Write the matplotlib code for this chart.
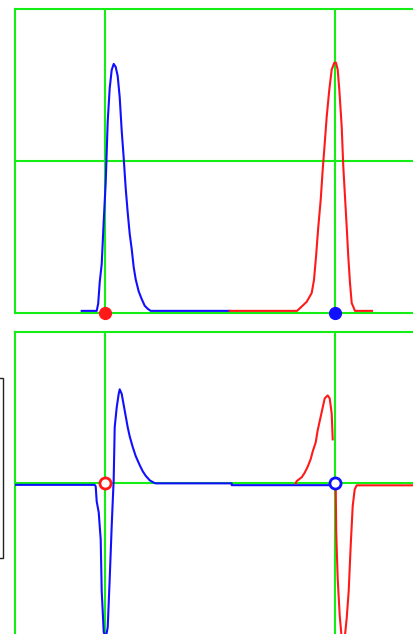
import numpy as np
import matplotlib
matplotlib.use("Agg")
import matplotlib.pyplot as plt
from matplotlib.patches import Rectangle

# ---------------- data ----------------
# top panel: blue peak (x in samples, y in normalized amplitude)
top_blue_x = [67, 82, 83.5, 85, 87, 89, 91, 93, 95, 97, 99, 101, 103, 105, 107, 109,
              111, 113, 115, 117, 119, 121, 124, 127, 130, 133, 136, 138, 215]
top_blue_y = [0.006, 0.006, 0.03, 0.10, 0.16, 0.30, 0.43, 0.63, 0.74, 0.80, 0.82, 0.81,
              0.78, 0.71, 0.60, 0.51, 0.41, 0.33, 0.26, 0.21, 0.15, 0.11, 0.07, 0.045,
              0.023, 0.013, 0.006, 0.006, 0.006]

top_red_x = [215, 282.3, 285.3, 292, 297, 299.3, 301.3, 303.6, 306, 308, 310.3, 312,
             314.6, 317, 319.6, 321.3, 323, 324.6, 327, 328.6, 330.3, 332, 333.6, 335.3,
             337, 340.3, 357.3]
top_red_y = [0.006, 0.006, 0.015, 0.036, 0.065, 0.108, 0.184, 0.283, 0.372, 0.471, 0.570,
             0.646, 0.735, 0.801, 0.824, 0.824, 0.801, 0.735, 0.613, 0.481, 0.382, 0.283,
             0.184, 0.098, 0.032, 0.006, 0.006]

# bottom panel: derivative-like traces
bot_blue_x = [0, 80, 81, 82, 84, 86, 87, 88, 89, 91, 93, 95, 97, 99, 100, 102, 104, 105,
              107, 110, 113, 115, 118, 121, 125, 128, 131, 135, 139, 141, 217, 217, 320]
bot_blue_y = [-0.01, -0.01, -0.02, -0.12, -0.19, -0.37, -0.71, -0.84, -0.98, -1.02, -0.95,
              -0.63, -0.28, 0.03, 0.37, 0.50, 0.59, 0.62, 0.59, 0.48, 0.37, 0.31, 0.24,
              0.18, 0.12, 0.08, 0.05, 0.02, 0.005, 0.0, 0.0, -0.012, -0.012]

bot_red_x = [281, 282, 287, 290, 293, 296, 298, 301, 303, 306, 308, 310, 313, 315, 317,
             318, 319, 321, 321.5, 323, 325, 327, 330, 332, 334, 336, 338, 340, 342, 450]
bot_red_y = [0.0, 0.015, 0.04, 0.07, 0.11, 0.16, 0.21, 0.27, 0.35, 0.44, 0.50, 0.56, 0.58,
             0.56, 0.46, 0.29, np.nan, 0.0, -0.32, -0.63, -0.87, -1.02, -1.02, -0.89,
             -0.71, -0.41, -0.15, -0.04, -0.013, -0.013]

marker_x = [90, 320]           # cursor positions
top_ylim = (0.0, 1.0)
bot_ylim = (-1.0, 1.0)
x_lim = (0, 450)

GREEN = "#14ee14"
BLUE = "#1010ff"
RED = "#ff1a1a"
LW = 1.5

fig = plt.figure(figsize=(4.14, 6.34), dpi=100)
W, H = 414, 634

def add_axes_px(left, top, width, height):
    return fig.add_axes([left / W, 1 - (top + height) / H, width / W, height / H])

ax1 = add_axes_px(14.7, 9.3, 450, 303.4)
ax2 = add_axes_px(14.7, 331.7, 450, 303.3)

for ax, yl in ((ax1, top_ylim), (ax2, bot_ylim)):
    ax.set_xlim(*x_lim)
    ax.set_ylim(*yl)
    ax.set_xticks([])
    ax.set_yticks([])
    for s in ax.spines.values():
        s.set_color(GREEN)
        s.set_linewidth(LW)
    ax.spines["right"].set_visible(False)
    for mx in marker_x:
        ax.axvline(mx, color=GREEN, lw=LW, zorder=1)
    ax.axhline(sum(yl) / 2, color=GREEN, lw=LW, zorder=1)
    ax.patch.set_facecolor("white")

ax2.spines["bottom"].set_visible(False)

# top traces
ax1.plot(top_blue_x, top_blue_y, color=BLUE, lw=LW, zorder=3)
ax1.plot(top_red_x, top_red_y, color=RED, lw=LW, zorder=3)
ax1.plot([marker_x[0]], [0.0], "o", color=RED, ms=8.5, zorder=5, clip_on=False)
ax1.plot([marker_x[1]], [0.0], "o", color=BLUE, ms=8.5, zorder=5, clip_on=False)

# bottom traces
ax2.plot(bot_blue_x, bot_blue_y, color=BLUE, lw=LW, zorder=3)
ax2.plot(bot_red_x, bot_red_y, color=RED, lw=LW, zorder=3)
ax2.plot([marker_x[0]], [0.0], "o", mfc="white", mec=RED, mew=2, ms=8, zorder=5)
ax2.plot([marker_x[1]], [0.0], "o", mfc="white", mec=BLUE, mew=2, ms=8, zorder=5)

# partial frame at left edge
fig.patches.append(Rectangle((-20 / W, 1 - 557.5 / H), 23 / W, 180 / H,
                             transform=fig.transFigure, fill=False,
                             edgecolor="#222222", lw=1.0))

fig.savefig("out.png", dpi=100)
